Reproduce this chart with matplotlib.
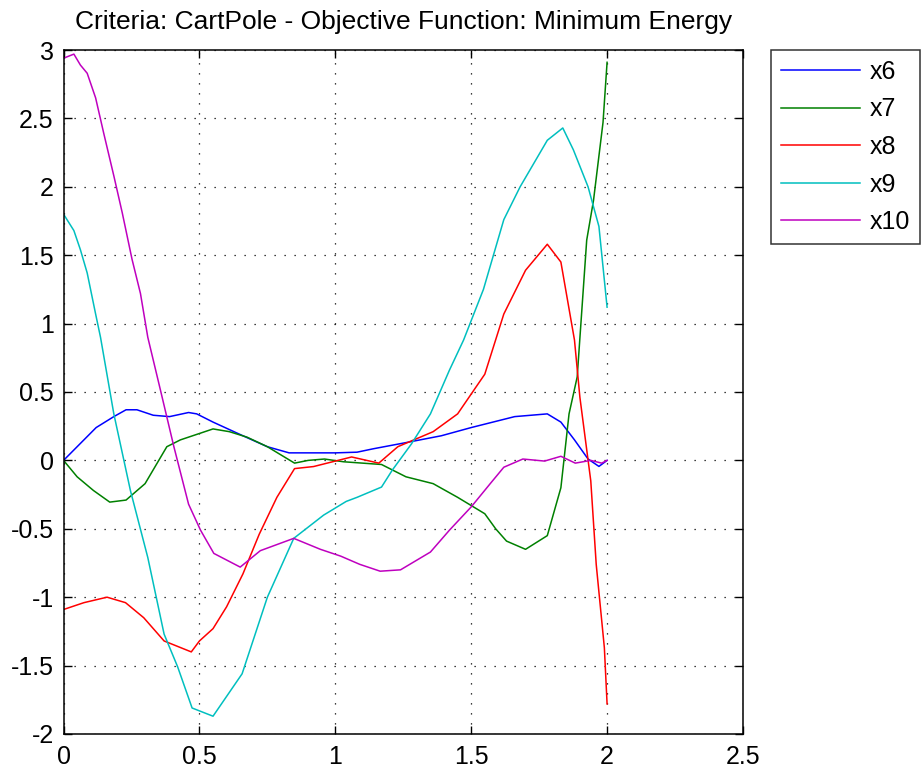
import numpy as np
import matplotlib
matplotlib.use('Agg')
import matplotlib.pyplot as plt

plt.rcParams['font.family'] = ['Liberation Sans', 'DejaVu Sans']

# values, (x, y) vertices per series
x6_t = [0, 0.12, 0.185, 0.23, 0.27, 0.33, 0.39, 0.46, 0.49, 0.55, 0.66, 0.75, 0.83,
        1.0, 1.08, 1.14, 1.26, 1.39, 1.5, 1.66, 1.78, 1.83, 1.88, 1.93, 1.97, 2.0]
x6 = [0, 0.24, 0.32, 0.37, 0.37, 0.33, 0.32, 0.35, 0.34, 0.28, 0.18, 0.10, 0.055,
      0.055, 0.06, 0.085, 0.13, 0.18, 0.24, 0.32, 0.34, 0.28, 0.15, 0.01, -0.044, 0.0]

x7_t = [0, 0.05, 0.11, 0.17, 0.23, 0.30, 0.38, 0.43, 0.49, 0.55, 0.61, 0.675, 0.75,
        0.85, 0.90, 0.96, 1.03, 1.17, 1.26, 1.36, 1.45, 1.55, 1.59, 1.63, 1.70, 1.78,
        1.83, 1.86, 1.89, 1.925, 1.95, 1.985, 2.0]
x7 = [0, -0.12, -0.22, -0.305, -0.29, -0.17, 0.10, 0.15, 0.19, 0.23, 0.21, 0.17, 0.10,
      -0.02, 0.0, 0.01, -0.01, -0.03, -0.12, -0.17, -0.27, -0.39, -0.50, -0.59, -0.65, -0.55,
      -0.2, 0.34, 0.61, 1.61, 1.90, 2.47, 2.91]

x8_t = [0, 0.075, 0.16, 0.228, 0.295, 0.37, 0.42, 0.47, 0.50, 0.55, 0.60, 0.66, 0.72,
        0.785, 0.85, 0.92, 0.99, 1.06, 1.16, 1.23, 1.36, 1.45, 1.55, 1.62, 1.70, 1.78,
        1.83, 1.88, 1.90, 1.94, 1.96, 1.99, 2.0]
x8 = [-1.09, -1.04, -1.0, -1.04, -1.15, -1.32, -1.36, -1.40, -1.32, -1.23, -1.07, -0.83, -0.54,
      -0.27, -0.06, -0.045, -0.01, 0.025, -0.02, 0.10, 0.21, 0.34, 0.63, 1.07, 1.39, 1.58,
      1.45, 0.88, 0.46, -0.15, -0.76, -1.37, -1.78]

x9_t = [0, 0.038, 0.062, 0.087, 0.118, 0.136, 0.185, 0.246, 0.31, 0.37, 0.42, 0.473, 0.55,
        0.657, 0.75, 0.847, 0.957, 1.04, 1.08, 1.17, 1.21, 1.28, 1.35, 1.42, 1.472, 1.545,
        1.62, 1.68, 1.78, 1.837, 1.876, 1.93, 1.97, 2.0]
x9 = [1.8, 1.68, 1.54, 1.37, 1.07, 0.90, 0.34, -0.22, -0.71, -1.27, -1.51, -1.81, -1.87,
      -1.56, -1.0, -0.57, -0.40, -0.30, -0.27, -0.195, -0.07, 0.12, 0.34, 0.66, 0.88, 1.25,
      1.76, 2.0, 2.34, 2.43, 2.27, 2.0, 1.71, 1.12]

x10_t = [0, 0.038, 0.062, 0.087, 0.118, 0.148, 0.185, 0.216, 0.252, 0.283, 0.31, 0.357,
         0.406, 0.46, 0.504, 0.553, 0.65, 0.724, 0.847, 0.945, 1.02, 1.09, 1.165, 1.24,
         1.35, 1.42, 1.50, 1.57, 1.62, 1.69, 1.77, 1.83, 1.883, 1.94, 1.98, 2.0]
x10 = [2.94, 2.97, 2.89, 2.83, 2.65, 2.39, 2.08, 1.81, 1.47, 1.22, 0.90, 0.51,
       0.10, -0.32, -0.51, -0.68, -0.78, -0.66, -0.57, -0.65, -0.70, -0.76, -0.81, -0.80,
       -0.67, -0.51, -0.34, -0.17, -0.05, 0.01, -0.005, 0.03, -0.02, 0.0, -0.02, 0.0]

labels = ['x6', 'x7', 'x8', 'x9', 'x10']
colors = ['#0000ff', '#008000', '#ff0000', '#00bfbf', '#bf00bf']

fig = plt.figure(figsize=(9.21, 7.74), dpi=100)
ax = fig.add_axes([0.069, 0.0517, 0.7377, 0.8837])

series = [(x6_t, x6), (x7_t, x7), (x8_t, x8), (x9_t, x9), (x10_t, x10)]
for (t, y), lab, c in zip(series, labels, colors):
    ax.plot(t, y, color=c, linewidth=1.1, label=lab)

ax.set_xlim(0, 2.5)
ax.set_ylim(-2, 3)
ax.set_xticks([0, 0.5, 1, 1.5, 2, 2.5])
ax.set_xticklabels(['0', '0.5', '1', '1.5', '2', '2.5'])
ax.set_yticks([-2, -1.5, -1, -0.5, 0, 0.5, 1, 1.5, 2, 2.5, 3])
ax.set_yticklabels(['-2', '-1.5', '-1', '-0.5', '0', '0.5', '1', '1.5', '2', '2.5', '3'])
ax.grid(True, color='black', linestyle=(0, (1, 7)), linewidth=0.9)
ax.tick_params(direction='in', length=6, width=1, labelsize=18, top=True, right=True)
ax.tick_params(axis='x', pad=8)
ax.tick_params(axis='y', pad=7)
for s in ax.spines.values():
    s.set_linewidth(1.1)

ax.set_title('Criteria: CartPole - Objective Function: Minimum Energy', fontsize=19, pad=15)

leg = ax.legend(loc='upper left', bbox_to_anchor=(771 / 921, 1 - 50 / 774),
                bbox_transform=fig.transFigure, fontsize=18, frameon=True,
                fancybox=False, edgecolor='black', handlelength=3.15,
                handletextpad=0.4, labelspacing=0.54, borderpad=0.4, borderaxespad=0)
leg.get_frame().set_linewidth(1.1)

fig.savefig('out.png', dpi=100)
